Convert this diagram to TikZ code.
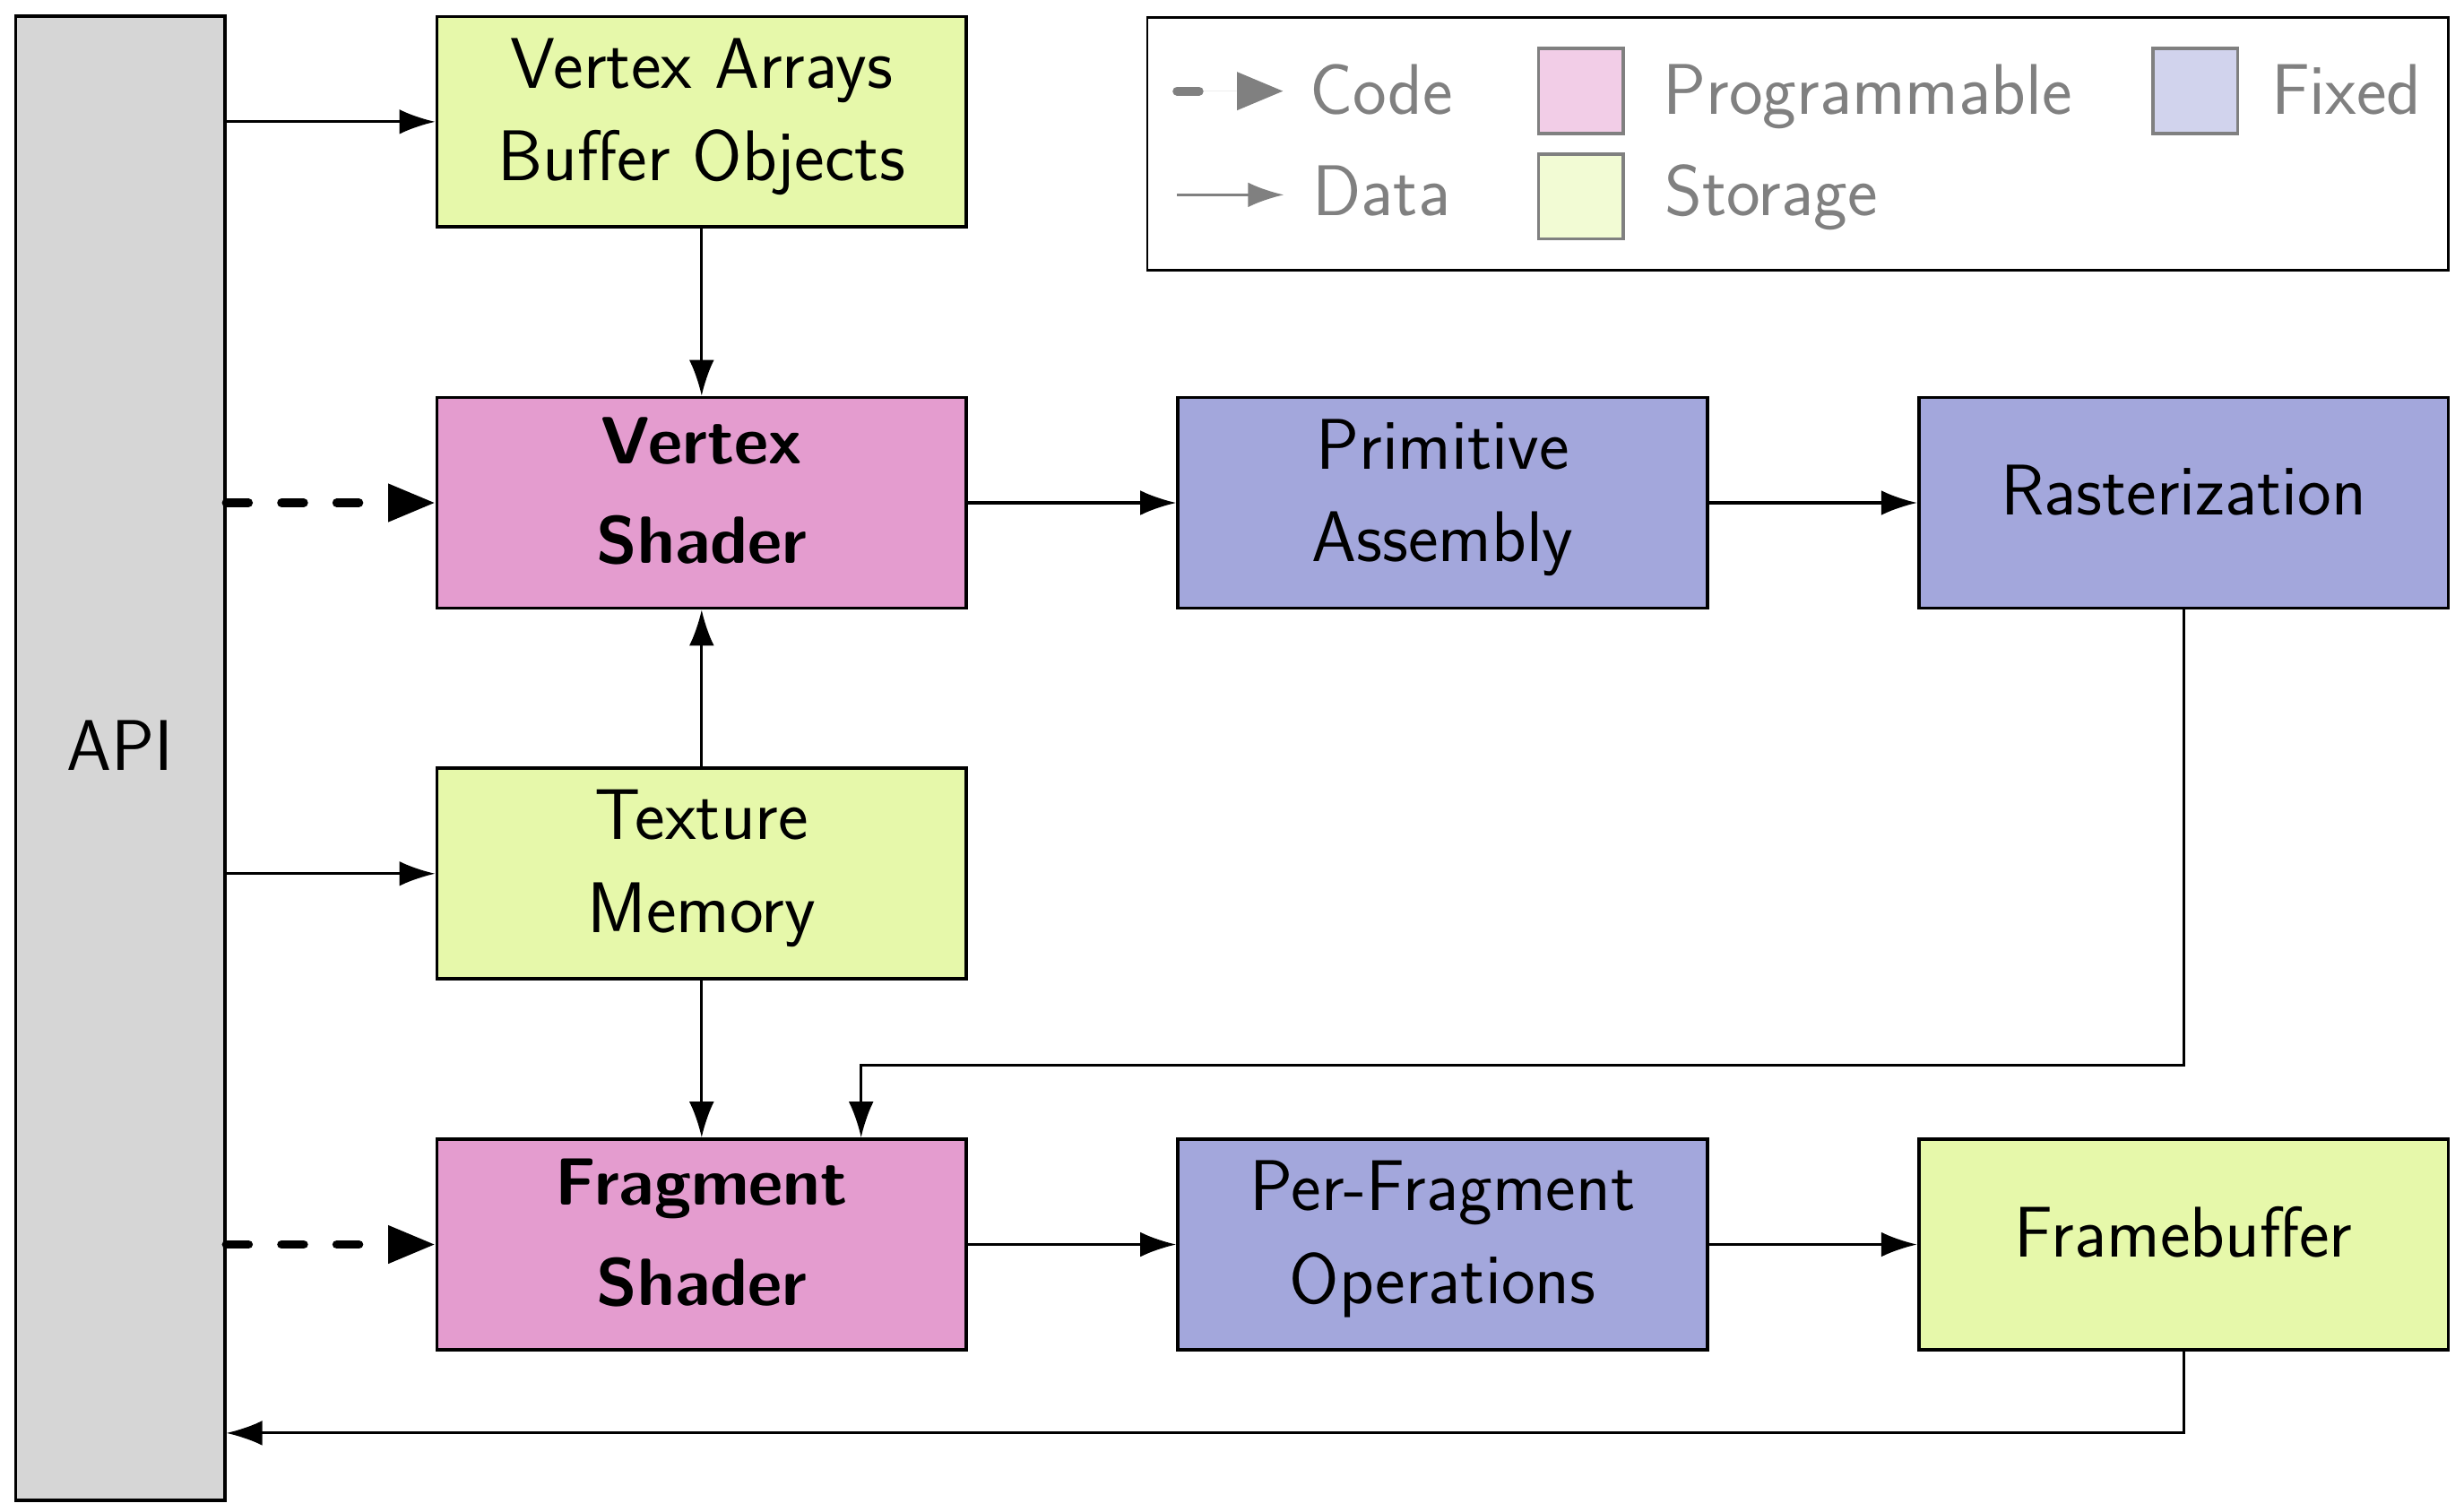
\documentclass[tikz,border=0pt]{standalone}
\usepackage{fontspec}
\usetikzlibrary{arrows.meta}
\definecolor{storagec}{HTML}{E6F8AA}
\definecolor{progc}{HTML}{E49CCF}
\definecolor{fixedc}{HTML}{A3A7DC}
\definecolor{apigray}{HTML}{D6D6D6}
\definecolor{legtext}{HTML}{808080}
\tikzset{
  box/.style={draw=black, line width=1.2pt, minimum width=6.74cm, minimum height=2.68cm,
    align=center, inner sep=0pt, text depth=9pt, font=\sffamily\fontsize{26}{33.5}\selectfont},
  storagebox/.style={box, fill=storagec},
  progbox/.style={box, fill=progc, font=\sffamily\bfseries\fontsize{24.2}{36.3}\selectfont},
  fixedbox/.style={box, fill=fixedc},
  data/.style={-{Latex[length=13pt,width=9pt]}, line width=1pt},
  code/.style={-{Triangle[length=17pt,width=13pt]}, line width=3.2pt, dash pattern=on 8pt off 12pt, line cap=round},
  swatch/.style={draw=legtext, line width=1.2pt, minimum width=1.08cm, minimum height=1.08cm, inner sep=0pt},
  legtxt/.style={text=legtext, anchor=base west, inner sep=0pt, font=\sffamily\fontsize{26}{30}\selectfont},
}
\begin{document}
\begin{tikzpicture}[x=0.02cm, y=-0.02cm]
\useasboundingbox (0,0) rectangle (1568,962);

% API column
\node[draw=black, line width=1.2pt, fill=apigray, minimum width=2.66cm, minimum height=18.9cm,
  inner sep=0pt, text depth=9pt, font=\sffamily\fontsize{26}{30}\selectfont] (api) at (76.5,482.5) {API};

% boxes
\node[storagebox] (va) at (446.5,77.5) {Vertex Arrays\\Buffer Objects};
\node[progbox] (vs) at (446.5,320) {Vertex\\Shader};
\node[storagebox] (tm) at (446.5,556) {Texture\\Memory};
\node[progbox] (fs) at (446.5,792) {Fragment\\Shader};
\node[fixedbox] (pa) at (918,320) {Primitive\\Assembly};
\node[fixedbox] (ra) at (1389.5,320) {Rasterization};
\node[fixedbox] (pf) at (918,792) {Per-Fragment\\Operations};
\node[storagebox] (fb) at (1389.5,792) {Framebuffer};

% connectors
\draw[data] (api.east |- va.west) -- (va.west);
\draw[data] (va.south) -- (vs.north);
\draw[code] (api.east |- vs.west) -- (vs.west);
\draw[data] (tm.north) -- (vs.south);
\draw[data] (api.east |- tm.west) -- (tm.west);
\draw[data] (tm.south) -- (fs.north);
\draw[code] (api.east |- fs.west) -- (fs.west);
\draw[data] (vs.east) -- (pa.west);
\draw[data] (pa.east) -- (ra.west);
\draw[data] (fs.east) -- (pf.west);
\draw[data] (pf.east) -- (fb.west);
\coordinate (fsin) at ([xshift=2.03cm]fs.north);
\draw[data] (ra.south) -- ++(0,290) -| (fsin);
\draw[data] (fb.south) |- (api.east |- 0,912);

% legend
\node[draw=black, line width=0.8pt, minimum width=16.56cm, minimum height=3.22cm, inner sep=0pt] (legend) at (1144,91.5) {};
\coordinate (lc1) at (749,58);
\coordinate (lc2) at (817,58);
\draw[code, draw=legtext, fill=legtext, dash pattern=on 8pt off 20pt] (lc1) -- (lc2);
\coordinate (ld1) at (749,124);
\coordinate (ld2) at (817,124);
\draw[data, draw=legtext, fill=legtext] (ld1) -- (ld2);
\node[legtxt] (tcode) at (833,73) {Code};
\node[legtxt] (tdata) at (835,137) {Data};
\node[swatch, fill=progc!50] (sprog) at (1006,58) {};
\node[swatch, fill=storagec!50] (sstor) at (1006,125) {};
\node[swatch, fill=fixedc!50] (sfix) at (1397,58) {};
\node[legtxt] (tprog) at (1058,73) {Programmable};
\node[legtxt] (tstor) at (1059,137) {Storage};
\node[legtxt] (tfix) at (1445,73) {Fixed};
\end{tikzpicture}
\end{document}
